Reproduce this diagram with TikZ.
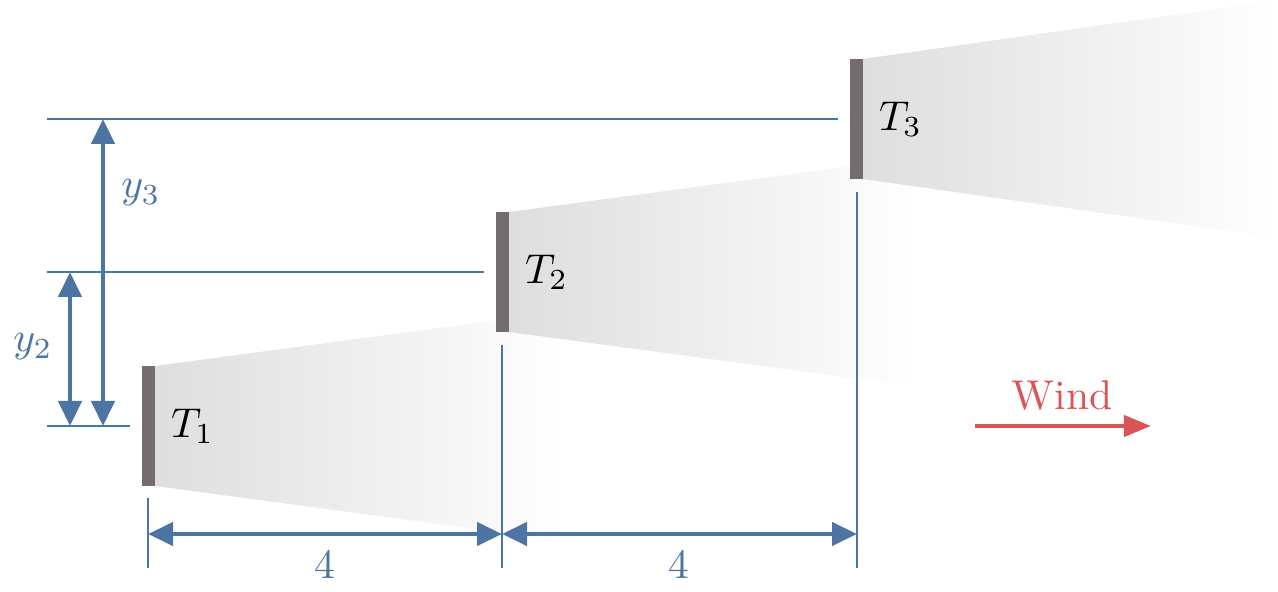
\documentclass[tikz,border=0pt]{standalone}
\usetikzlibrary{arrows.meta}
\definecolor{dimblue}{RGB}{77,117,163}
\definecolor{windred}{RGB}{219,84,87}
\definecolor{rotor}{RGB}{117,109,109}
\tikzset{
  turbine/.style={fill=rotor, draw=none, minimum width=13*0.24pt, minimum height=120*0.24pt, inner sep=0pt, outer sep=0pt},
  wake/.style={left color=black!13, right color=white, draw=none},
  thinline/.style={draw=dimblue, line width=0.35pt},
  dimarrow/.style={draw=dimblue, line width=1.1pt, {Triangle[length=6pt,width=5.5pt]}-{Triangle[length=6pt,width=5.5pt]}},
  dimlabel/.style={text=dimblue, inner sep=1pt},
  tlabel/.style={anchor=west, inner sep=1pt},
  windarrow/.style={draw=windred, line width=1.1pt, -{Triangle[length=6.5pt,width=5pt]}}
}
\begin{document}
\begin{tikzpicture}[x=0.24pt, y=-0.24pt]
\useasboundingbox (0,0) rectangle (1278,592);
% turbines
\node[turbine] (t1) at (148.5,426) {};
\node[turbine] (t2) at (502.5,272) {};
\node[turbine] (t3) at (856.5,119) {};
% wakes
\shade[wake] (t1.north east) -- ++(410,-55) -- ++(0,230) -- (t1.south east) -- cycle;
\shade[wake] (t2.north east) -- ++(410,-55) -- ++(0,230) -- (t2.south east) -- cycle;
\shade[wake] (t3.north east) -- ++(415,-59) -- ++(0,238) -- (t3.south east) -- cycle;
% redraw turbines on top
\fill[rotor] (t1.north west) rectangle (t1.south east);
\fill[rotor] (t2.north west) rectangle (t2.south east);
\fill[rotor] (t3.north west) rectangle (t3.south east);
% labels
\node[tlabel] (l1) at ([xshift=11*0.24pt]t1.east) {$T_1$};
\node[tlabel] (l2) at ([xshift=11*0.24pt]t2.east) {$T_2$};
\node[tlabel] (l3) at ([xshift=11*0.24pt]t3.east) {$T_3$};
% reference lines
\coordinate (h3a) at (47,119); \coordinate (h3b) at (838,119);
\coordinate (h2a) at (47,272); \coordinate (h2b) at (484,272);
\coordinate (h1a) at (47,426); \coordinate (h1b) at (130,426);
\draw[thinline] (h3a) -- (h3b);
\draw[thinline] (h2a) -- (h2b);
\draw[thinline] (h1a) -- (h1b);
% vertical dimension arrows
\coordinate (y2t) at (70,272); \coordinate (y2b) at (70,426);
\coordinate (y3t) at (103,119); \coordinate (y3b) at (103,426);
\draw[dimarrow] (y2b) -- (y2t);
\draw[dimarrow] (y3b) -- (y3t);
\node[dimlabel] (ly2) at (33,347) {$y_2$};
\node[dimlabel] (ly3) at (141,193) {$y_3$};
% extension lines
\coordinate (e1a) at (148,498); \coordinate (e1b) at (148,568);
\coordinate (e2a) at (502,345); \coordinate (e2b) at (502,568);
\coordinate (e3a) at (857,192); \coordinate (e3b) at (857,568);
\draw[thinline] (e1a) -- (e1b);
\draw[thinline] (e2a) -- (e2b);
\draw[thinline] (e3a) -- (e3b);
% horizontal dimension arrows
\coordinate (d1) at (148,534); \coordinate (d2) at (502,534); \coordinate (d3) at (857,534);
\draw[dimarrow] (d1) -- (d2);
\draw[dimarrow] (d2) -- (d3);
\node[dimlabel] (l4a) at (325,564) {4};
\node[dimlabel] (l4b) at (679,564) {4};
% wind
\coordinate (w1) at (975,426); \coordinate (w2) at (1151,426);
\draw[windarrow] (w1) -- (w2);
\node[text=windred, inner sep=1pt] (wind) at (1062,396) {Wind};
\end{tikzpicture}
\end{document}
